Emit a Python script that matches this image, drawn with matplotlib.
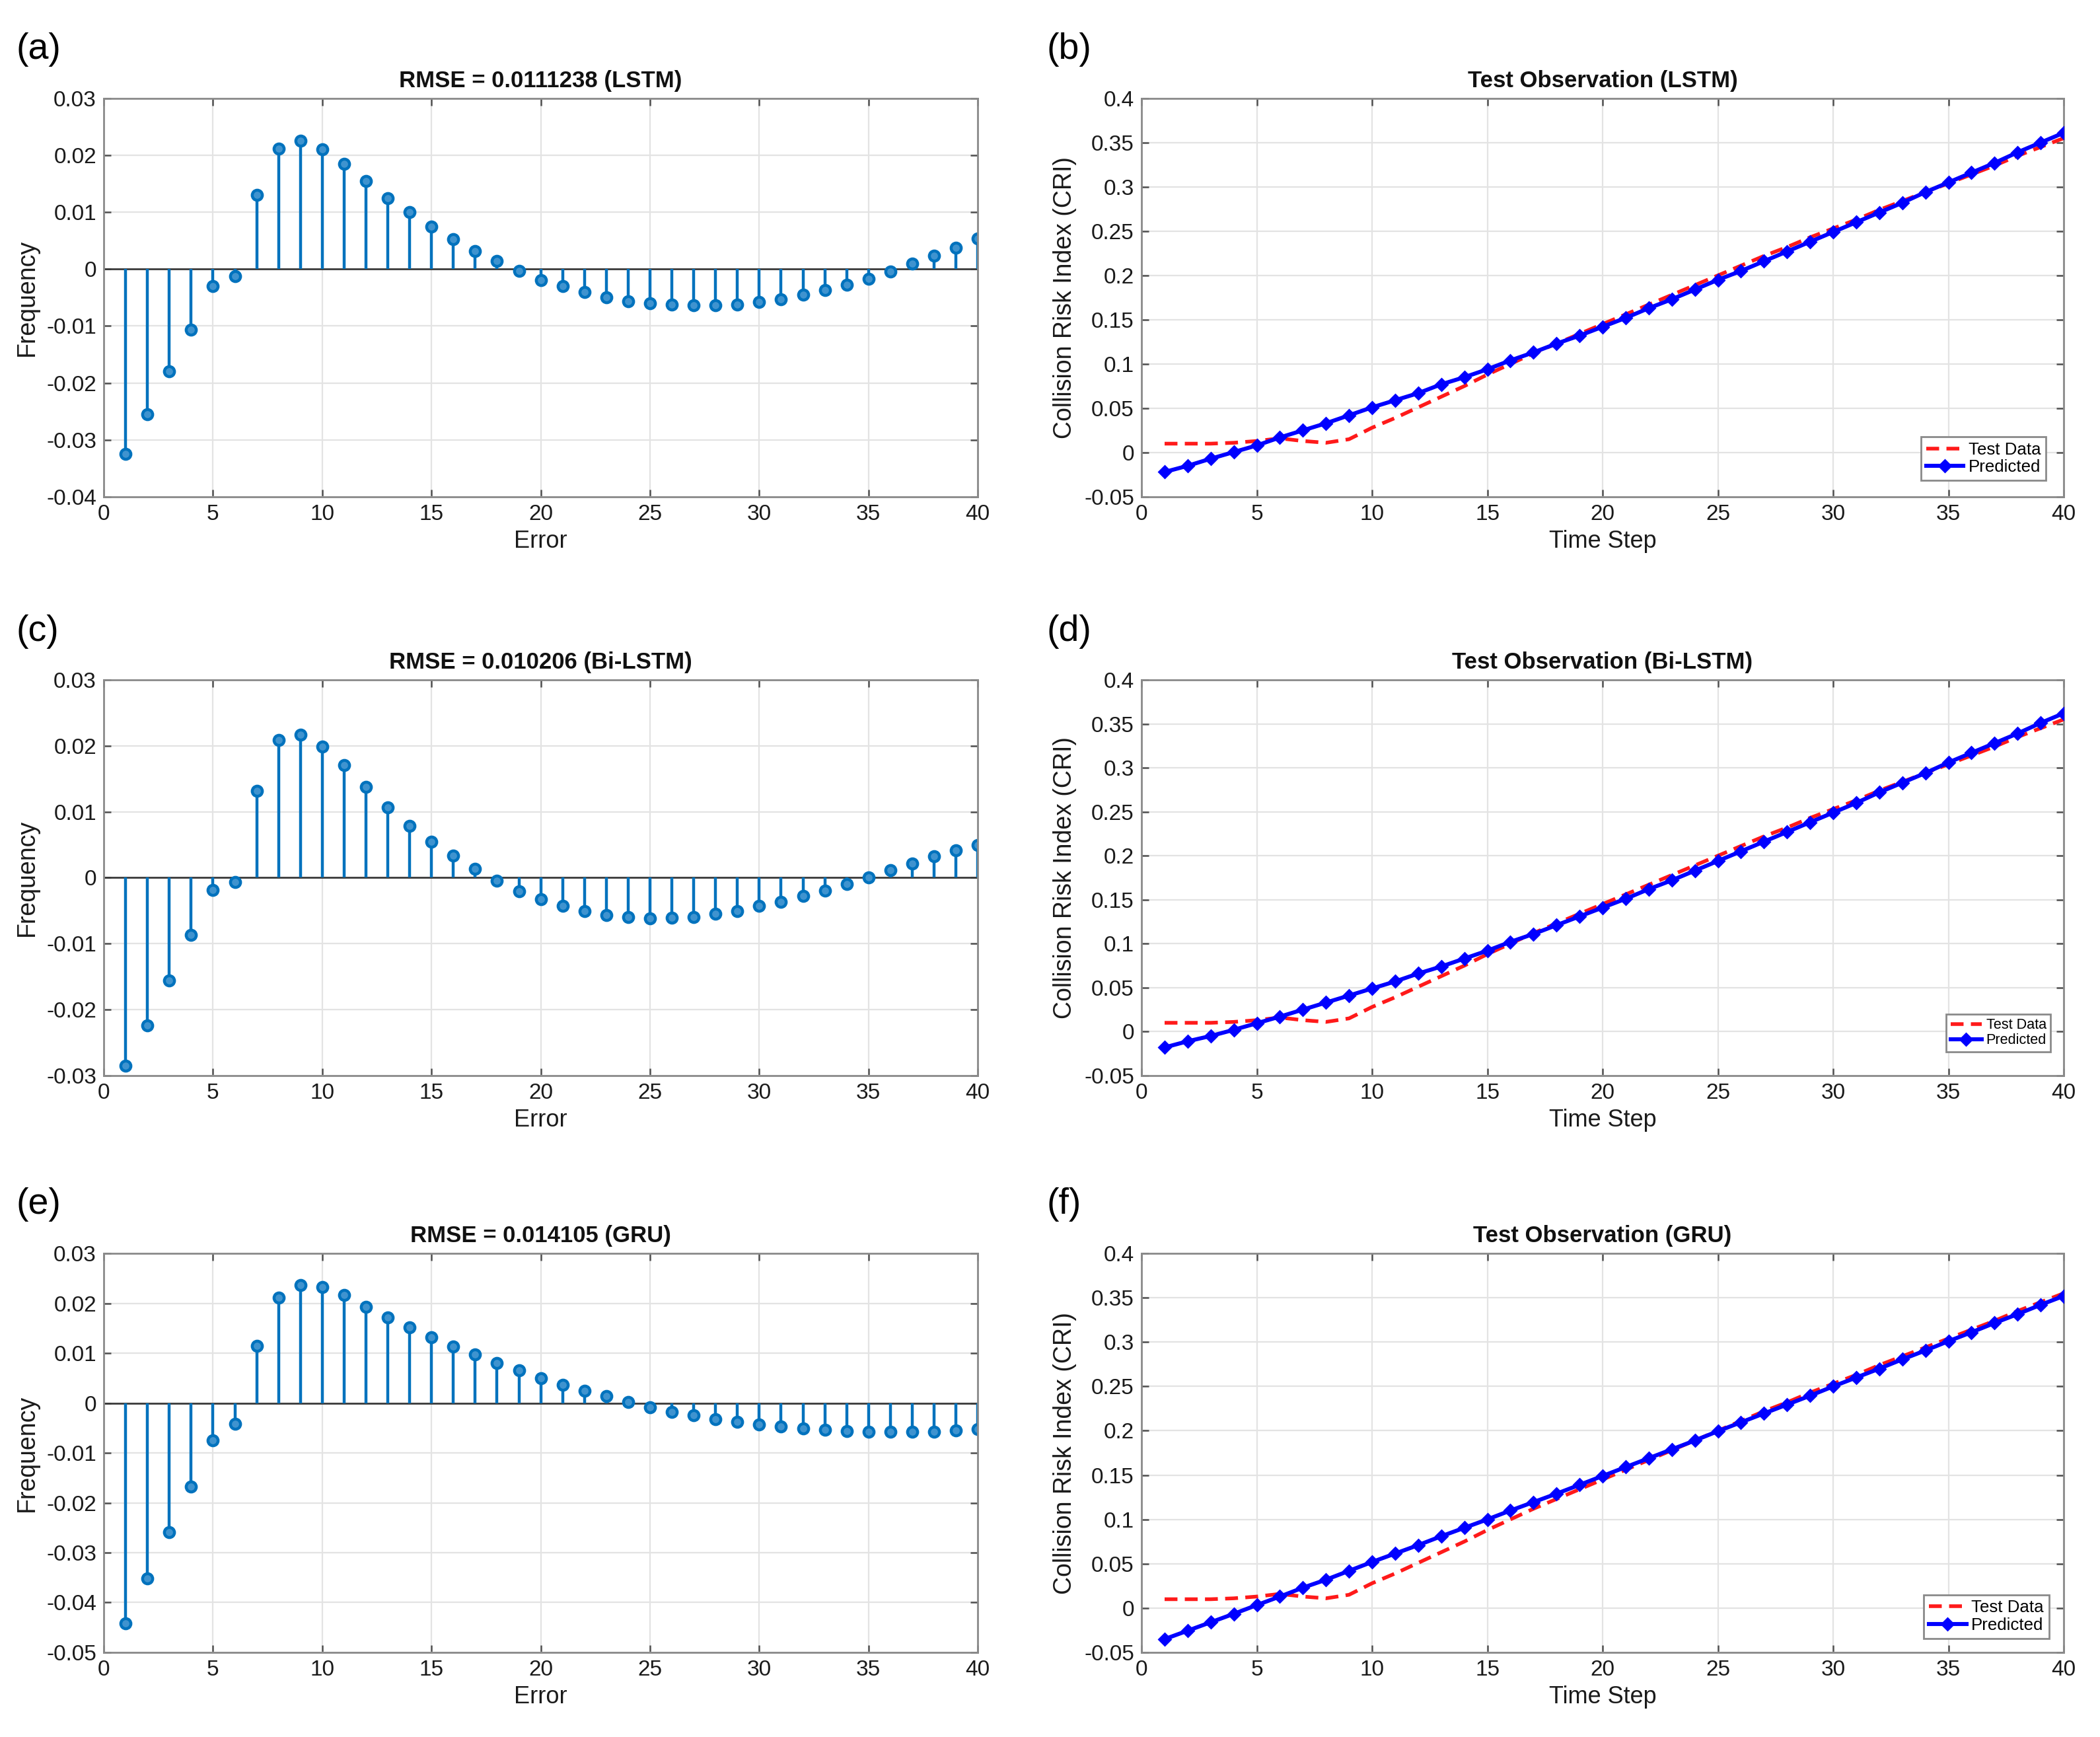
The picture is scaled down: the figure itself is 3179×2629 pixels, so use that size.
import numpy as np
import matplotlib
matplotlib.use("Agg")
import matplotlib.pyplot as plt
from matplotlib.ticker import FuncFormatter, MultipleLocator

plt.rcParams['font.family'] = ['Liberation Sans', 'DejaVu Sans']

# ---------------- data ----------------
error_idx = list(range(1, 41))
time_steps = list(range(1, 41))

freq_lstm = [-0.0325, -0.0255, -0.018, -0.0106, -0.003, -0.0013, 0.013, 0.0211, 0.0225, 0.021,
             0.0185, 0.0155, 0.0124, 0.010, 0.0075, 0.0052, 0.0032, 0.0014, -0.0003, -0.0019,
             -0.003, -0.004, -0.005, -0.0056, -0.006, -0.0062, -0.0064, -0.0064, -0.0062, -0.0058,
             -0.0053, -0.0045, -0.0037, -0.0028, -0.0017, -0.0004, 0.001, 0.0024, 0.0037, 0.0054]

freq_bilstm = [-0.0285, -0.0224, -0.0156, -0.0087, -0.0019, -0.0007, 0.0132, 0.0209, 0.0217, 0.0199,
               0.0171, 0.0138, 0.0107, 0.0079, 0.0055, 0.0033, 0.0013, -0.0005, -0.0021, -0.0033,
               -0.0043, -0.0051, -0.0057, -0.006, -0.0062, -0.0061, -0.006, -0.0055, -0.0051, -0.0043,
               -0.0037, -0.0028, -0.002, -0.001, 0.0, 0.0011, 0.0021, 0.0032, 0.0042, 0.005]

freq_gru = [-0.0442, -0.0352, -0.0259, -0.0167, -0.0075, -0.0042, 0.0115, 0.0212, 0.0236, 0.0232,
            0.0216, 0.0193, 0.0172, 0.0152, 0.0132, 0.0113, 0.0097, 0.008, 0.0065, 0.005,
            0.0037, 0.0025, 0.0014, 0.0002, -0.0009, -0.0018, -0.0025, -0.0033, -0.0038, -0.0043,
            -0.0047, -0.0051, -0.0054, -0.0056, -0.0057, -0.0058, -0.0058, -0.0057, -0.0055, -0.0052]

test_data = [0.010, 0.010, 0.010, 0.011, 0.013, 0.016, 0.013, 0.011, 0.015, 0.028,
             0.039, 0.051, 0.063, 0.075, 0.088, 0.100, 0.112, 0.123, 0.134, 0.145,
             0.156, 0.167, 0.178, 0.189, 0.200, 0.211, 0.222, 0.232, 0.243, 0.253,
             0.263, 0.274, 0.284, 0.294, 0.304, 0.314, 0.324, 0.335, 0.345, 0.355]

pred_lstm = [-0.022, -0.015, -0.007, 0.0005, 0.008, 0.017, 0.025, 0.033, 0.042, 0.051,
             0.059, 0.067, 0.077, 0.085, 0.094, 0.104, 0.113, 0.123, 0.132, 0.142,
             0.152, 0.163, 0.173, 0.184, 0.195, 0.205, 0.216, 0.227, 0.238, 0.249,
             0.260, 0.271, 0.282, 0.294, 0.305, 0.316, 0.327, 0.339, 0.350, 0.361]

pred_bilstm = [-0.018, -0.011, -0.005, 0.002, 0.0095, 0.017, 0.025, 0.033, 0.041, 0.049,
               0.057, 0.066, 0.074, 0.083, 0.092, 0.102, 0.111, 0.121, 0.131, 0.141,
               0.151, 0.162, 0.172, 0.183, 0.194, 0.205, 0.216, 0.227, 0.238, 0.249,
               0.260, 0.272, 0.283, 0.294, 0.306, 0.317, 0.328, 0.339, 0.351, 0.362]

pred_gru = [-0.035, -0.0255, -0.016, -0.0065, 0.0034, 0.013, 0.023, 0.032, 0.042, 0.052,
            0.0615, 0.071, 0.081, 0.0905, 0.100, 0.110, 0.1195, 0.129, 0.139, 0.149,
            0.159, 0.169, 0.179, 0.189, 0.1995, 0.2095, 0.2195, 0.2295, 0.2395, 0.250,
            0.260, 0.270, 0.2805, 0.2905, 0.301, 0.311, 0.3215, 0.3315, 0.342, 0.352]

stem_titles = ["RMSE = 0.0111238 (LSTM)", "RMSE = 0.010206 (Bi-LSTM)", "RMSE = 0.014105 (GRU)"]
line_titles = ["Test Observation (LSTM)", "Test Observation (Bi-LSTM)", "Test Observation (GRU)"]
stem_ylims = [(-0.04, 0.03), (-0.03, 0.03), (-0.05, 0.03)]
panel_left = ["(a)", "(c)", "(e)"]
panel_right = ["(b)", "(d)", "(f)"]

# ---------------- layout ----------------
W, H, DPI = 3179, 2629, 200
fig = plt.figure(figsize=(W / DPI, H / DPI), dpi=DPI)

col_l = (0.0494, 0.4162)
col_r = (0.5436, 0.4391)
rows = [(0.714, 0.2294), (0.3808, 0.2278), (0.0487, 0.2297)]

stem_c = '#0072BD'
grid_c = '#e3e3e3'
spine_c = '#8a8a8a'


def fmt(v, pos):
    if abs(v) < 1e-12:
        return '0'
    s = ('%.3f' % v).rstrip('0').rstrip('.')
    return s


def style_axes(ax):
    ax.grid(True, color=grid_c, linewidth=0.8)
    ax.set_axisbelow(True)
    for sp in ax.spines.values():
        sp.set_color(spine_c)
        sp.set_linewidth(1.0)
    ax.tick_params(direction='in', length=4, width=0.9, color='#505050',
                   top=True, right=True, labelsize=12, pad=4, labelcolor='#1a1a1a')
    ax.xaxis.set_major_locator(MultipleLocator(5))
    ax.yaxis.set_major_formatter(FuncFormatter(fmt))
    ax.xaxis.set_major_formatter(FuncFormatter(fmt))
    ax.set_xlim(0, 40)


stem_data = [freq_lstm, freq_bilstm, freq_gru]
pred_data = [pred_lstm, pred_bilstm, pred_gru]
legend_cfg = [(0.981, 0.041, 9.3), (0.986, 0.06, 7.8), (0.984, 0.035, 9.3)]

for i in range(3):
    b, h = rows[i]
    # stem plot
    ax = fig.add_axes([col_l[0], b, col_l[1], h])
    style_axes(ax)
    ml, sl, bl = ax.stem(error_idx, stem_data[i], basefmt=' ')
    plt.setp(sl, color=stem_c, linewidth=1.6)
    plt.setp(ml, marker='o', markersize=5.5, markerfacecolor='#3f93cf',
             markeredgecolor=stem_c, markeredgewidth=1.6)
    ax.axhline(0, color='#3a3a3a', linewidth=1.0, zorder=1.5)
    ax.set_ylim(*stem_ylims[i])
    ax.yaxis.set_major_locator(MultipleLocator(0.01))
    ax.set_title(stem_titles[i], fontsize=12.5, fontweight='bold', pad=6, color='#111111')
    ax.set_xlabel('Error', fontsize=13, labelpad=3, color='#1a1a1a')
    ax.set_ylabel('Frequency', fontsize=13.5, labelpad=4, color='#1a1a1a')
    ax.text(-0.10, 1.165, panel_left[i], transform=ax.transAxes, fontsize=20,
            va='top', ha='left')

    # line plot
    ax2 = fig.add_axes([col_r[0], b, col_r[1], h])
    style_axes(ax2)
    ax2.plot(time_steps, test_data, color='#ff1a1a', linewidth=2.0, linestyle=(0, (3.5, 2.0)),
             label='Test Data', zorder=3)
    ax2.plot(time_steps, pred_data[i], color='#0000ff', linewidth=2.2, marker='D',
             markersize=4.5, markerfacecolor='#0000ff', markeredgecolor='#0000ff',
             label='Predicted', zorder=4)
    ax2.set_ylim(-0.05, 0.4)
    ax2.yaxis.set_major_locator(MultipleLocator(0.05))
    ax2.set_title(line_titles[i], fontsize=12.5, fontweight='bold', pad=6, color='#111111')
    ax2.set_xlabel('Time Step', fontsize=13, labelpad=3, color='#1a1a1a')
    ax2.set_ylabel('Collision Risk Index (CRI)', fontsize=13.5, labelpad=4, color='#1a1a1a')
    ax2.text(-0.103, 1.165, panel_right[i], transform=ax2.transAxes, fontsize=20,
             va='top', ha='left')
    lx, ly, lfs = legend_cfg[i]
    leg = ax2.legend(loc='lower right', bbox_to_anchor=(lx, ly), fontsize=lfs,
                     frameon=True, fancybox=False, framealpha=1, edgecolor='#8a8a8a',
                     handlelength=2.2, handletextpad=0.3, borderpad=0.3, labelspacing=0.1,
                     borderaxespad=0)
    leg.get_frame().set_linewidth(1.0)

fig.savefig('out.png', dpi=DPI, facecolor='white')
